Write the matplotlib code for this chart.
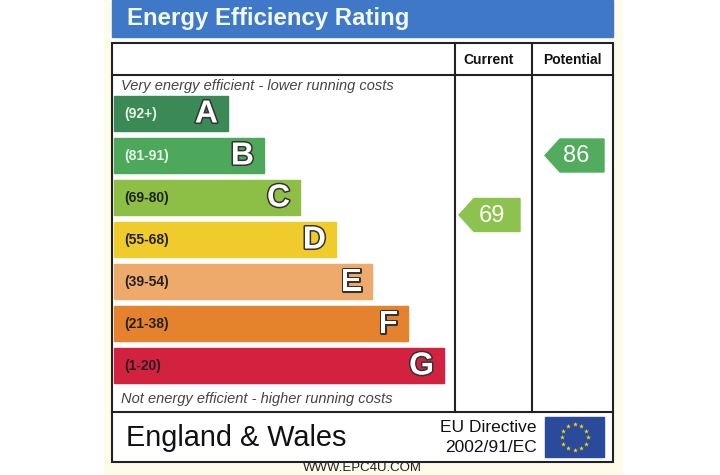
import numpy as np
import matplotlib.pyplot as plt
from matplotlib.patches import Rectangle, Polygon
import matplotlib.patheffects as pe

plt.rcParams['font.family'] = ['Liberation Sans', 'DejaVu Sans']

# rating bands
letters = ['A', 'B', 'C', 'D', 'E', 'F', 'G']
ranges = ['(92+)', '(81-91)', '(69-80)', '(55-68)', '(39-54)', '(21-38)', '(1-20)']
band_lo = [92, 81, 69, 55, 39, 21, 1]
band_hi = [100, 91, 80, 68, 54, 38, 20]
band_colors = ['#3b8a55', '#4da85b', '#8dbf46', '#f0cb2c', '#eeaa6b', '#e5822e', '#d3223f']
range_colors = ['#e8f4e8', '#e8f4e8', '#222222', '#222222', '#222222', '#222222', '#222222']

current = 69
potential = 86

fig = plt.figure(figsize=(7.2, 4.75), dpi=100)
ax = fig.add_axes([0, 0, 1, 1])
ax.set_xlim(0, 720)
ax.set_ylim(475, 0)
ax.axis('off')

# pale backdrop strip
ax.add_patch(Rectangle((104, 0), 518, 475, color='#fdfbea', zorder=0))
ax.add_patch(Rectangle((112, 37), 501, 425, color='white', zorder=0))

# title bar
ax.add_patch(Rectangle((112, 0), 501, 37, color='#3f78c6', zorder=1))
ax.text(127, 19, 'Energy Efficiency Rating', color='#f2f8ff', fontsize=17.3,
        fontweight='bold', va='center', ha='left', zorder=2)

# frame
lc = '#222222'
lw = 1.5
ax.add_patch(Rectangle((112, 43), 501, 419, fill=False, ec=lc, lw=lw, zorder=5))
ax.plot([112, 613], [75, 75], color=lc, lw=lw, zorder=5)
ax.plot([112, 613], [412, 412], color=lc, lw=lw, zorder=5)
ax.plot([455, 455], [43, 412], color=lc, lw=lw, zorder=5)
ax.plot([532, 532], [43, 412], color=lc, lw=lw, zorder=5)

ax.text(489, 59.5, 'Current', fontsize=10, fontweight='bold', ha='center', va='center', color='#111')
ax.text(572, 59.5, 'Potential', fontsize=10, fontweight='bold', ha='center', va='center', color='#111')

ax.text(121, 86, 'Very energy efficient - lower running costs', fontsize=10.5,
        style='italic', color='#444', ha='left', va='center')
ax.text(121, 399, 'Not energy efficient - higher running costs', fontsize=10.5,
        style='italic', color='#444', ha='left', va='center')

# bands
bar_top0 = 96
bar_h = 35
bar_step = 42
bar_left = 114
tops = []
for i, (let, rng) in enumerate(zip(letters, ranges)):
    top = bar_top0 + i * bar_step
    tops.append(top)
    right = 228 + 36 * i
    ax.add_patch(Rectangle((bar_left, top), right - bar_left, bar_h,
                           color=band_colors[i], zorder=2))
    ax.text(124, top + bar_h / 2 + 0.5, rng, fontsize=10, fontweight='bold',
            color=range_colors[i], ha='left', va='center', zorder=3)
    ax.text(right - 10, top + bar_h / 2 + 1, let, fontsize=23, fontweight='bold',
            color='white', ha='right', va='center', zorder=3,
            path_effects=[pe.withStroke(linewidth=2.2, foreground='#333333')])


def arrow_y(v):
    for i in range(len(letters)):
        if band_lo[i] <= v <= band_hi[i]:
            hi = band_hi[i] if i > 0 else band_lo[i] + 8
            return tops[i] + (hi - v) / (hi - band_lo[i]) * bar_h
    return tops[-1]


def draw_arrow(v, x_tip, x_right, tx):
    yc = arrow_y(v)
    i = [k for k in range(len(letters)) if band_lo[k] <= v <= band_hi[k]][0]
    h = 33
    col = {0: '#3b8a55', 1: '#52ac5e', 2: '#8cc34f'}.get(i, band_colors[i])
    pts = [(x_tip, yc), (x_tip + 15, yc - h / 2), (x_right, yc - h / 2),
           (x_right, yc + h / 2), (x_tip + 15, yc + h / 2)]
    ax.add_patch(Polygon(pts, closed=True, color=col, zorder=3))
    ax.text(tx, yc + 1, str(v), fontsize=17, color='white', ha='center', va='center', zorder=4)


draw_arrow(current, 459, 520, 492)
draw_arrow(potential, 545, 604, 576)

# footer
ax.text(126, 437.5, 'England & Wales', fontsize=20.8, color='#111', ha='left', va='center')
ax.text(537, 427, 'EU Directive', fontsize=12.5, color='#111', ha='right', va='center')
ax.text(537, 448, '2002/91/EC', fontsize=12.5, color='#111', ha='right', va='center')

ax.add_patch(Rectangle((545, 417), 59, 40, color='#2a4a9c', zorder=3))
ang = np.linspace(0, 2 * np.pi, 12, endpoint=False)
ax.scatter(574.5 + 13 * np.cos(ang), 437 + 13 * np.sin(ang), marker='*', s=14,
           color='#f5d800', linewidths=0, zorder=4)

ax.text(362, 474, 'WWW.EPC4U.COM', fontsize=9.5, color='#222', ha='center', va='bottom')

fig.savefig('out.png', dpi=100)
